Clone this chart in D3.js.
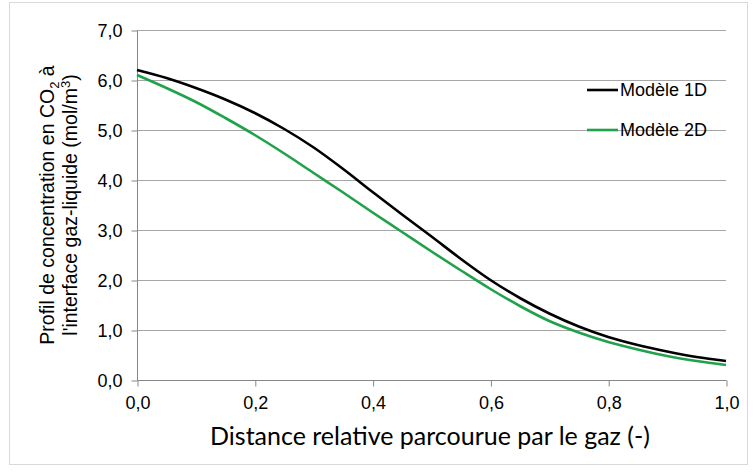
<!DOCTYPE html>
<html>
<head>
<meta charset="utf-8">
<script src="https://cdn.jsdelivr.net/npm/d3@7"></script>
<style>
html,body{margin:0;padding:0;background:#fff;}
svg{display:block;}
</style>
</head>
<body>
<svg id="chart" width="753" height="474"></svg>
<script>
const xValues = [0, 0.05, 0.1, 0.15, 0.2, 0.25, 0.3, 0.35, 0.4, 0.45, 0.5,
                 0.55, 0.6, 0.65, 0.7, 0.75, 0.8, 0.85, 0.9, 0.95, 1.0];
const model1D = [6.2, 6.04, 5.84, 5.61, 5.34, 5.02, 4.65, 4.22, 3.76, 3.31, 2.87,
                 2.42, 2.0, 1.64, 1.33, 1.07, 0.86, 0.70, 0.57, 0.46, 0.38];
const model2D = [6.1, 5.84, 5.56, 5.24, 4.9, 4.53, 4.14, 3.75, 3.35, 2.96, 2.57,
                 2.19, 1.82, 1.48, 1.18, 0.95, 0.76, 0.61, 0.48, 0.38, 0.30];
const seriesNames = ["Modèle 1D", "Modèle 2D"];
const seriesColors = ["#000000", "#1fa24a"];
const xTicks = [0, 0.2, 0.4, 0.6, 0.8, 1.0];
const yTicks = [0, 1, 2, 3, 4, 5, 6, 7];

const svg = d3.select("#chart");
const m = {left: 137, right: 726, top: 30, bottom: 380};
const sans = "'Liberation Sans', Arial, sans-serif";

// outer frame
svg.append("rect").attr("x", 9.5).attr("y", 2.5).attr("width", 738).attr("height", 462)
  .attr("fill", "#fff").attr("stroke", "#d9d9d9").attr("stroke-width", 1);

const x = d3.scaleLinear().domain([0, 1]).range([m.left, m.right]);
const y = d3.scaleLinear().domain([0, 7]).range([m.bottom, m.top]);
const fmt = d => d3.format(".1f")(d).replace(".", ",");

// gridlines
svg.append("g").selectAll("line").data(yTicks.filter(d => d > 0)).join("line")
  .attr("x1", m.left).attr("x2", m.right)
  .attr("y1", d => Math.round(y(d)) + 0.5).attr("y2", d => Math.round(y(d)) + 0.5)
  .attr("stroke", "#a6a6a6").attr("stroke-width", 1);

// y axis
const yAxis = svg.append("g").attr("transform", `translate(${m.left + 0.5},0.5)`)
  .call(d3.axisLeft(y).tickValues(yTicks).tickFormat(fmt).tickSize(6).tickPadding(9));
yAxis.attr("font-family", sans).attr("font-size", 18);
yAxis.select(".domain").attr("stroke", "#868686").attr("d", `M0,${m.top}V${m.bottom}`);
yAxis.selectAll(".tick line").attr("stroke", "#868686");
yAxis.selectAll("text").style("font-family", sans).style("font-size", "18px").attr("fill", "#000");

// x axis
const xAxis = svg.append("g").attr("transform", `translate(0.5,${m.bottom + 0.5})`)
  .call(d3.axisBottom(x).tickValues(xTicks).tickFormat(fmt).tickSize(6).tickPadding(10));
xAxis.attr("font-family", sans).attr("font-size", 18);
xAxis.select(".domain").attr("stroke", "#868686").attr("d", `M${m.left},0H${m.right}`);
xAxis.selectAll(".tick line").attr("stroke", "#868686");
xAxis.selectAll("text").style("font-family", sans).style("font-size", "18px").attr("fill", "#000");

// lines
const line = d3.line().x((d, i) => x(xValues[i])).y(d => y(d)).curve(d3.curveCatmullRom.alpha(0.5));
[model1D, model2D].forEach((s, k) => {
  svg.append("path").datum(s).attr("d", line)
    .attr("fill", "none").attr("stroke", seriesColors[k]).attr("stroke-width", 2.6);
});

// legend
seriesNames.forEach((n, k) => {
  const ly = 90 + k * 40;
  svg.append("line").attr("x1", 587).attr("x2", 618).attr("y1", ly).attr("y2", ly)
    .attr("stroke", seriesColors[k]).attr("stroke-width", 2.6);
  svg.append("text").attr("x", 620).attr("y", ly + 6).text(n)
    .style("font-family", sans).style("font-size", "18px").attr("fill", "#000");
});

// x title
svg.append("text").attr("x", 430).attr("y", 445).attr("text-anchor", "middle")
  .style("font-family", "Lato, 'Open Sans', sans-serif").style("font-size", "25px").attr("fill", "#000")
  .text("Distance relative parcourue par le gaz (-)");

// y title
const yt = svg.append("text").attr("transform", "rotate(-90)")
  .attr("text-anchor", "middle")
  .style("font-family", sans).style("font-size", "19.5px").attr("fill", "#000");
const t1 = yt.append("tspan").attr("x", -205).attr("y", 54);
t1.append("tspan").text("Profil de concentration en CO");
t1.append("tspan").attr("dy", 5).style("font-size", "13px").text("2");
t1.append("tspan").attr("dy", -5).text(" à");
const t2 = yt.append("tspan").attr("x", -205).attr("y", 77);
t2.append("tspan").text("l'interface gaz-liquide (mol/m");
t2.append("tspan").attr("dy", -7).style("font-size", "13px").text("3");
t2.append("tspan").attr("dy", 7).text(")");
</script>
</body>
</html>
